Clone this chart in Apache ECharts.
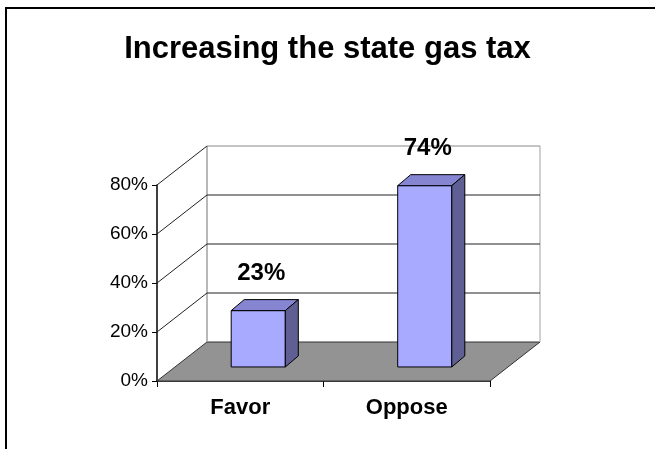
<!DOCTYPE html>
<html>
<head>
<meta charset="utf-8">
<script src="https://cdn.jsdelivr.net/npm/echarts@6/dist/echarts.min.js"></script>
<style>
html,body{margin:0;padding:0;background:#fff;}
#chart{width:655px;height:449px;}
</style>
</head>
<body>
<div id="chart"></div>
<script>
const titleText = 'Increasing the state gas tax';
const categories = ['Favor', 'Oppose'];
const values = [23, 74];
const valueLabels = ['23%', '74%'];
const yTicks = [0, 20, 40, 60, 80];

// 3D projection styling (pixels)
const DEPTH_DX = 50, DEPTH_DY = -39;
const BAR_OFFSET = 0.36, BAR_DX = 13, BAR_DY = -11, BAR_W = 0.325;
const FONT = 'Liberation Sans, Arial, sans-serif';

const chart = echarts.init(document.getElementById('chart'), null, {renderer: 'canvas'});

function wallItem(params, api) {
  const v = api.value(1);
  const p = api.coord([0, v]);
  const half = api.size([1, 0])[0] / 2;
  const x0 = p[0] - half;
  const x1 = api.coord([categories.length - 1, v])[0] + half;
  const y = p[1];
  const y0 = api.coord([0, 0])[1];
  const children = [];
  if (v === 0) {
    children.push({
      type: 'polygon', z2: 0,
      shape: {points: [[x0, y], [x1, y], [x1 + DEPTH_DX, y + DEPTH_DY], [x0 + DEPTH_DX, y + DEPTH_DY]]},
      style: {fill: '#939393', stroke: '#333', lineWidth: 1}
    });
  } else {
    children.push({
      type: 'line', z2: 2,
      shape: {x1: x0, y1: y, x2: x0 + DEPTH_DX, y2: y + DEPTH_DY},
      style: {stroke: '#222', lineWidth: 1}
    });
    children.push({
      type: 'line', z2: 2,
      shape: {x1: x0 + DEPTH_DX, y1: y + DEPTH_DY, x2: x1 + DEPTH_DX, y2: y + DEPTH_DY},
      style: {stroke: v === yTicks[yTicks.length - 1] ? '#888' : '#222', lineWidth: 1}
    });
  }
  if (v === yTicks[yTicks.length - 1]) {
    children.push({
      type: 'line', z2: 1,
      shape: {x1: x0 + DEPTH_DX, y1: y + DEPTH_DY, x2: x0 + DEPTH_DX, y2: y0 + DEPTH_DY},
      style: {stroke: '#a0a0a0', lineWidth: 1.5}
    });
    children.push({
      type: 'line', z2: 1,
      shape: {x1: x1 + DEPTH_DX, y1: y + DEPTH_DY, x2: x1 + DEPTH_DX, y2: y0 + DEPTH_DY},
      style: {stroke: '#c0c0c0', lineWidth: 1.5}
    });
  }
  return {type: 'group', children: children};
}

function barItem(params, api) {
  const i = api.value(0);
  const v = api.value(1);
  const base = api.coord([i, 0]);
  const top = api.coord([i, v]);
  const w = api.size([1, 0])[0] * BAR_W;
  const cx = base[0] + BAR_OFFSET * DEPTH_DX;
  const xa = cx - w / 2, xb = cx + w / 2;
  const yb = base[1] + BAR_OFFSET * DEPTH_DY;
  const yt = top[1] + BAR_OFFSET * DEPTH_DY;
  const st = {stroke: '#000', lineWidth: 1};
  return {
    type: 'group',
    children: [
      {type: 'polygon', shape: {points: [[xa, yt], [xb, yt], [xb, yb], [xa, yb]]}, style: Object.assign({fill: '#A8AAFF'}, st)},
      {type: 'polygon', shape: {points: [[xa, yt], [xb, yt], [xb + BAR_DX, yt + BAR_DY], [xa + BAR_DX, yt + BAR_DY]]}, style: Object.assign({fill: '#8585D2'}, st)},
      {type: 'polygon', shape: {points: [[xb, yt], [xb + BAR_DX, yt + BAR_DY], [xb + BAR_DX, yb + BAR_DY], [xb, yb]]}, style: Object.assign({fill: '#5F5F94'}, st)},
      {type: 'text', style: {
        x: cx + 3, y: yt + BAR_DY - 26, text: valueLabels[i],
        fill: '#000', font: 'bold 24px ' + FONT, align: 'center', verticalAlign: 'middle'
      }}
    ]
  };
}

const option = {
  backgroundColor: '#fff',
  animation: false,
  title: {
    text: titleText, left: 'center', top: 29,
    textStyle: {fontFamily: FONT, fontSize: 31, fontWeight: 'bold', color: '#000'}
  },
  graphic: [{
    type: 'polyline', silent: true,
    shape: {points: [[6, 449], [6, 8], [655, 8]]},
    style: {stroke: '#000', lineWidth: 2, fill: null}
  }],
  grid: {left: 157, right: 165, top: 185, bottom: 68, containLabel: false},
  xAxis: {
    type: 'category', data: categories,
    axisLine: {lineStyle: {color: '#000', width: 1.5}},
    axisTick: {show: true, length: 6, lineStyle: {color: '#000'}},
    axisLabel: {fontFamily: FONT, fontSize: 22, fontWeight: 'bold', color: '#000', margin: 16}
  },
  yAxis: {
    type: 'value', min: 0, max: 80, interval: 20,
    axisLine: {show: true, lineStyle: {color: '#000', width: 1.5}},
    axisTick: {show: true, length: 5, lineStyle: {color: '#000'}},
    axisLabel: {formatter: '{value}%', fontFamily: FONT, fontSize: 19, color: '#000', margin: 9},
    splitLine: {show: false}
  },
  series: [
    {type: 'custom', renderItem: wallItem, data: yTicks.map(v => [0, v]), z: 1, silent: true},
    {type: 'custom', renderItem: barItem, data: values.map((v, i) => [i, v]), z: 3, silent: true}
  ]
};
chart.setOption(option);
</script>
</body>
</html>
